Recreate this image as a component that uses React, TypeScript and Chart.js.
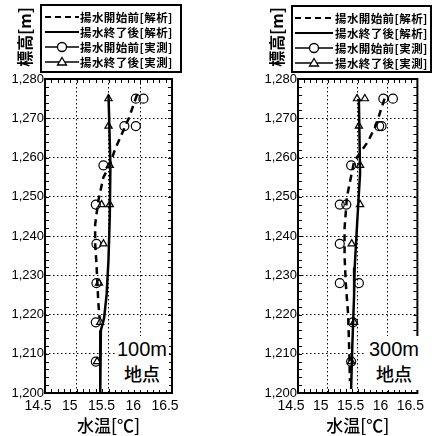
import React, { useEffect, useRef } from "react";
import { Chart, registerables } from "chart.js";

Chart.register(...registerables);

// ---------- data ----------
const X_TICKS = [14.5, 15, 15.5, 16, 16.5];
const Y_TICKS = [1200, 1210, 1220, 1230, 1240, 1250, 1260, 1270, 1280];

const LEGEND_LABELS = ["揚水開始前[解析]", "揚水終了後[解析]", "揚水開始前[実測]", "揚水終了後[実測]"];
const X_TITLE = "水温[℃]";
const Y_TITLE = "標高[m]";
const SITE_100 = ["100m", "地点"];
const SITE_300 = ["300m", "地点"];

// 100m site
const S100_BEFORE_CALC_ELEV = [1276, 1270, 1262, 1258, 1255, 1249, 1243, 1238, 1233, 1223, 1219];
const S100_BEFORE_CALC_TEMP = [15.95, 15.82, 15.6, 15.52, 15.42, 15.34, 15.29, 15.29, 15.31, 15.34, 15.36];
const S100_AFTER_CALC_ELEV = [1276, 1258, 1245, 1234, 1225, 1219, 1216, 1200];
const S100_AFTER_CALC_TEMP = [15.5, 15.53, 15.52, 15.5, 15.47, 15.43, 15.38, 15.37];
const S100_BEFORE_OBS_ELEV = [1275, 1275, 1268, 1268, 1258, 1248, 1238, 1228, 1218, 1208];
const S100_BEFORE_OBS_TEMP = [15.93, 16.05, 15.75, 15.93, 15.42, 15.3, 15.31, 15.31, 15.3, 15.3];
const S100_AFTER_OBS_ELEV = [1275, 1268, 1258, 1248, 1248, 1238, 1228, 1218, 1208];
const S100_AFTER_OBS_TEMP = [15.5, 15.5, 15.52, 15.39, 15.52, 15.42, 15.35, 15.37, 15.32];

// 300m site
const S300_BEFORE_CALC_ELEV = [1275, 1268, 1264, 1259, 1250, 1242, 1235, 1228, 1220, 1210, 1203];
const S300_BEFORE_CALC_TEMP = [15.95, 15.8, 15.67, 15.44, 15.32, 15.28, 15.28, 15.3, 15.34, 15.36, 15.37];
const S300_AFTER_CALC_ELEV = [1275, 1256, 1243, 1232, 1225, 1212, 1201];
const S300_AFTER_CALC_TEMP = [15.52, 15.54, 15.49, 15.45, 15.44, 15.41, 15.39];
const S300_BEFORE_OBS_ELEV = [1275, 1275, 1268, 1268, 1258, 1248, 1248, 1238, 1228, 1228, 1218, 1208];
const S300_BEFORE_OBS_TEMP = [15.93, 16.09, 15.86, 15.9, 15.39, 15.2, 15.31, 15.2, 15.2, 15.52, 15.42, 15.39];
const S300_AFTER_OBS_ELEV = [1275, 1275, 1268, 1258, 1248, 1238, 1218, 1208];
const S300_AFTER_OBS_TEMP = [15.49, 15.62, 15.52, 15.54, 15.54, 15.4, 15.44, 15.39];

// ---------- helpers ----------
const JP = '"Noto Sans CJK JP", sans-serif';
const SANS = '"Liberation Sans", Arial, sans-serif';
const H = 436;

type Pt = { x: number; y: number };
const zip = (temps: number[], elevs: number[]): Pt[] => temps.map((t, i) => ({ x: t, y: elevs[i] }));

const framePlugin = {
  id: "frameMinor",
  afterDraw(chart: any) {
    const { ctx, chartArea: a, scales } = chart;
    const xs = scales.x;
    const ys = scales.y;
    ctx.save();
    ctx.strokeStyle = "#000";
    ctx.setLineDash([]);
    ctx.lineWidth = 1;
    const L = 4;
    const xMin = X_TICKS[0];
    const xMax = X_TICKS[X_TICKS.length - 1];
    const nx = Math.round((xMax - xMin) / 0.1);
    ctx.beginPath();
    for (let i = 0; i <= nx; i++) {
      const px = Math.round(xs.getPixelForValue(xMin + i * 0.1)) + 0.5;
      ctx.moveTo(px, a.bottom);
      ctx.lineTo(px, a.bottom - L);
      ctx.moveTo(px, a.top);
      ctx.lineTo(px, a.top + L);
    }
    const yMin = Y_TICKS[0];
    const yMax = Y_TICKS[Y_TICKS.length - 1];
    for (let v = yMin; v <= yMax; v += 2) {
      const py = Math.round(ys.getPixelForValue(v)) + 0.5;
      ctx.moveTo(a.left, py);
      ctx.lineTo(a.left + L, py);
      ctx.moveTo(a.right, py);
      ctx.lineTo(a.right - L, py);
    }
    ctx.stroke();
    ctx.lineWidth = 2;
    ctx.strokeRect(a.left, a.top, a.right - a.left, a.bottom - a.top);
    ctx.restore();
  },
};

type Series = {
  beforeCalc: Pt[];
  afterCalc: Pt[];
  beforeObs: Pt[];
  afterObs: Pt[];
};

type PanelProps = {
  left: number;
  width: number;
  plotLeft: number;
  plotRight: number;
  series: Series;
  site: string[];
  legend: { left: number; top: number; width: number; height: number; sampleX: number; sampleW: number; textX: number };
  yTitleX: number;
  siteBox: { left: number; width: number };
};

const PLOT_TOP = 79;
const PLOT_BOTTOM = 393;

function Panel(p: PanelProps) {
  const ref = useRef<HTMLCanvasElement | null>(null);
  useEffect(() => {
    if (!ref.current) return;
    const chart = new Chart(ref.current, {
      type: "scatter",
      data: {
        datasets: [
          {
            label: LEGEND_LABELS[2],
            data: p.series.beforeObs,
            showLine: false,
            pointStyle: "circle",
            pointRadius: 4.5,
            pointBorderWidth: 1.2,
            pointBorderColor: "#000",
            pointBackgroundColor: "rgba(255,255,255,0)",
          },
          {
            label: LEGEND_LABELS[3],
            data: p.series.afterObs,
            showLine: false,
            pointStyle: "triangle",
            pointRadius: 4.2,
            pointBorderWidth: 1.2,
            pointBorderColor: "#000",
            pointBackgroundColor: "rgba(255,255,255,0)",
          },
          {
            label: LEGEND_LABELS[0],
            data: p.series.beforeCalc,
            showLine: true,
            borderColor: "#000",
            borderWidth: 2.5,
            borderDash: [7, 5],
            pointRadius: 0,
            fill: false,
            tension: 0,
          },
          {
            label: LEGEND_LABELS[1],
            data: p.series.afterCalc,
            showLine: true,
            borderColor: "#000",
            borderWidth: 2.5,
            pointRadius: 0,
            fill: false,
            tension: 0,
          },
        ],
      },
      options: {
        responsive: false,
        animation: false,
        events: [],
        layout: { padding: { left: 0, top: PLOT_TOP, right: p.width - p.plotRight, bottom: 0 } },
        plugins: { legend: { display: false }, tooltip: { enabled: false } },
        scales: {
          x: {
            type: "linear",
            min: X_TICKS[0],
            max: X_TICKS[X_TICKS.length - 1],
            afterBuildTicks: (s: any) => {
              s.ticks = X_TICKS.map((v) => ({ value: v }));
            },
            afterFit: (s: any) => {
              s.height = H - PLOT_BOTTOM;
            },
            grid: { color: "#000", lineWidth: 1, drawTicks: false },
            border: { display: false, dash: [1.5, 2.5] },
            ticks: {
              color: "#000",
              font: { family: SANS, size: 14 },
              padding: 5,
              labelOffset: -7,
              maxRotation: 0,
              autoSkip: false,
              callback: (v: any) => String(v),
            },
            title: {
              display: true,
              text: X_TITLE,
              color: "#000",
              font: { family: JP, size: 17, weight: "500" },
              padding: { top: 0, bottom: 0 },
            },
          },
          y: {
            type: "linear",
            min: Y_TICKS[0],
            max: Y_TICKS[Y_TICKS.length - 1],
            afterBuildTicks: (s: any) => {
              s.ticks = Y_TICKS.map((v) => ({ value: v }));
            },
            afterFit: (s: any) => {
              s.width = p.plotLeft;
            },
            grid: { color: "#000", lineWidth: 1, drawTicks: false },
            border: { display: false, dash: [1.5, 2.5] },
            ticks: {
              color: "#000",
              font: { family: SANS, size: 13 },
              padding: 1,
              autoSkip: false,
              callback: (v: any) => Number(v).toLocaleString("en-US"),
            },
          },
        },
      },
      plugins: [framePlugin],
    } as any);
    return () => chart.destroy();
  }, []);

  const lg = p.legend;
  const rowCenters = [11, 26, 41, 56];
  return (
    <div style={{ position: "absolute", left: p.left, top: 0, width: p.width, height: H }}>
      <canvas ref={ref} width={p.width} height={H} style={{ position: "absolute", left: 0, top: 0 }} />
      {/* y title */}
      <div
        style={{
          position: "absolute",
          left: p.yTitleX,
          top: 37,
          transform: "translate(-50%, -50%) rotate(-90deg)",
          fontFamily: JP,
          fontSize: 16,
          fontWeight: 700,
          whiteSpace: "nowrap",
          lineHeight: "16px",
          color: "#000",
        }}
      >
        {Y_TITLE}
      </div>
      {/* legend */}
      <div
        style={{
          position: "absolute",
          left: lg.left,
          top: lg.top,
          width: lg.width,
          height: lg.height,
          border: "2px solid #000",
          boxSizing: "border-box",
          background: "#fff",
        }}
      >
        {LEGEND_LABELS.map((label, i) => (
          <div key={i} style={{ position: "absolute", left: 0, top: rowCenters[i] - 8, height: 16, width: lg.width - 4 }}>
            <svg
              width={lg.sampleW}
              height={16}
              style={{ position: "absolute", left: lg.sampleX, top: 0 }}
            >
              {i === 0 && <line x1={0} y1={8} x2={lg.sampleW} y2={8} stroke="#000" strokeWidth={2} strokeDasharray="6 4" />}
              {i === 1 && <line x1={0} y1={8} x2={lg.sampleW} y2={8} stroke="#000" strokeWidth={2} />}
              {i === 2 && (
                <>
                  <line x1={0} y1={8} x2={lg.sampleW} y2={8} stroke="#000" strokeWidth={1.3} />
                  <circle cx={lg.sampleW / 2} cy={8} r={4.5} fill="#fff" stroke="#000" strokeWidth={1.3} />
                </>
              )}
              {i === 3 && (
                <>
                  <line x1={0} y1={8} x2={lg.sampleW} y2={8} stroke="#000" strokeWidth={1.3} />
                  <polygon
                    points={`${lg.sampleW / 2},3.5 ${lg.sampleW / 2 + 4.5},11 ${lg.sampleW / 2 - 4.5},11`}
                    fill="#fff"
                    stroke="#000"
                    strokeWidth={1.3}
                  />
                </>
              )}
            </svg>
            <div
              style={{
                position: "absolute",
                left: lg.textX,
                top: 0,
                height: 16,
                lineHeight: "16px",
                fontFamily: JP,
                fontSize: 11.5,
                fontWeight: 700,
                letterSpacing: "0.4px",
                whiteSpace: "nowrap",
                color: "#000",
              }}
            >
              {label}
            </div>
          </div>
        ))}
      </div>
      {/* site label */}
      <div
        style={{
          position: "absolute",
          left: p.siteBox.left,
          top: 336,
          width: p.siteBox.width,
          height: 54,
          background: "#fff",
          color: "#000",
          textAlign: "center",
        }}
      >
        <div style={{ fontFamily: SANS, fontSize: 20, lineHeight: "24px", height: 24, marginTop: 1 }}>{p.site[0]}</div>
        <div style={{ fontFamily: JP, fontSize: 18, fontWeight: 500, lineHeight: "24px", height: 24 }}>{p.site[1]}</div>
      </div>
    </div>
  );
}

export default function App() {
  const s100: Series = {
    beforeCalc: zip(S100_BEFORE_CALC_TEMP, S100_BEFORE_CALC_ELEV),
    afterCalc: zip(S100_AFTER_CALC_TEMP, S100_AFTER_CALC_ELEV),
    beforeObs: zip(S100_BEFORE_OBS_TEMP, S100_BEFORE_OBS_ELEV),
    afterObs: zip(S100_AFTER_OBS_TEMP, S100_AFTER_OBS_ELEV),
  };
  const s300: Series = {
    beforeCalc: zip(S300_BEFORE_CALC_TEMP, S300_BEFORE_CALC_ELEV),
    afterCalc: zip(S300_AFTER_CALC_TEMP, S300_AFTER_CALC_ELEV),
    beforeObs: zip(S300_BEFORE_OBS_TEMP, S300_BEFORE_OBS_ELEV),
    afterObs: zip(S300_AFTER_OBS_TEMP, S300_AFTER_OBS_ELEV),
  };
  return (
    <div style={{ position: "absolute", left: 0, top: 0, width: 436, height: 436, background: "#fff", overflow: "hidden" }}>
      <Panel
        left={0}
        width={218}
        plotLeft={45}
        plotRight={172}
        series={s100}
        site={SITE_100}
        legend={{ left: 40, top: 4, width: 142, height: 69, sampleX: 3, sampleW: 34, textX: 38 }}
        yTitleX={24}
        siteBox={{ left: 115, width: 54 }}
      />
      <Panel
        left={218}
        width={218}
        plotLeft={80}
        plotRight={208}
        series={s300}
        site={SITE_300}
        legend={{ left: 73, top: 5, width: 141, height: 68, sampleX: 2, sampleW: 38, textX: 42 }}
        yTitleX={58}
        siteBox={{ left: 147, width: 58 }}
      />
    </div>
  );
}
